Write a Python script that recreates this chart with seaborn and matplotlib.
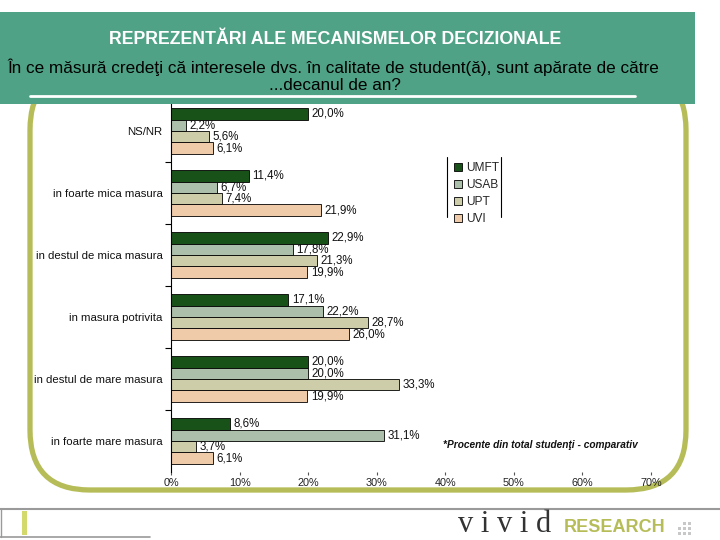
import matplotlib
matplotlib.use("Agg")
import matplotlib.pyplot as plt
import matplotlib.patches as mpatches
import matplotlib.transforms as mtransforms
from matplotlib.lines import Line2D
import pandas as pd
import seaborn as sns

CATEGORIES = [
    "NS/NR",
    "in foarte mica masura",
    "in destul de mica masura",
    "in masura potrivita",
    "in destul de mare masura",
    "in foarte mare masura",
]
UNIVERSITIES = ["UMFT", "USAB", "UPT", "UVI"]
UMFT = [20.0, 11.4, 22.9, 17.1, 20.0, 8.6]
USAB = [2.2, 6.7, 17.8, 22.2, 20.0, 31.1]
UPT = [5.6, 7.4, 21.3, 28.7, 33.3, 3.7]
UVI = [6.1, 21.9, 19.9, 26.0, 19.9, 6.1]
X_TICKS = [0, 10, 20, 30, 40, 50, 60, 70]

COLORS = ["#0f5c0f", "#a9c3a6", "#d4d3a3", "#fccb9d"]
BAND = "#4fa285"
OLIVE = "#b6bd58"

sns.set_theme(style="white")
plt.rcParams["font.family"] = ["Liberation Sans", "DejaVu Sans"]

rows = []
for uni, values in zip(UNIVERSITIES, [UMFT, USAB, UPT, UVI]):
    for cat, v in zip(CATEGORIES, values):
        rows.append({"categorie": cat, "universitate": uni, "procent": v})
df = pd.DataFrame(rows)

fig = plt.figure(figsize=(7.2, 5.4), dpi=100)
pix = mtransforms.Affine2D().scale(0.01) + fig.dpi_scale_trans

ax = fig.add_axes([171 / 720, 1 - 472 / 540, 480 / 720, 372 / 540])
ax.patch.set_alpha(0)
sns.barplot(
    data=df, y="categorie", x="procent", hue="universitate",
    order=CATEGORIES, hue_order=UNIVERSITIES, palette=COLORS,
    orient="h", width=0.74, edgecolor="black", linewidth=0.6, ax=ax,
)

for container, values in zip(ax.containers, [UMFT, USAB, UPT, UVI]):
    labels = [f"{v:.1f}%".replace(".", ",") for v in values]
    ax.bar_label(container, labels=labels, padding=2.5, fontsize=8.3, color="#111111")

ax.set_xlim(0, 70)
ax.set_ylim(len(CATEGORIES) - 0.5, -0.5)
ax.set_xticks(X_TICKS)
ax.set_xticklabels([f"{t}%" for t in X_TICKS], fontsize=7.8, color="#222222")
ax.set_yticks(range(len(CATEGORIES)))
ax.set_yticklabels(CATEGORIES, fontsize=8.2, color="#111111")
ax.set_yticks([i + 0.5 for i in range(len(CATEGORIES) - 1)], minor=True)
ax.tick_params(axis="y", which="major", length=0, pad=6)
ax.tick_params(axis="y", which="minor", length=4, width=0.8, color="black", direction="out", left=True)
ax.tick_params(axis="x", length=2, width=0.8, color="#555555", direction="out", bottom=True, pad=2)
ax.set_xlabel("")
ax.set_ylabel("")
for side in ["top", "right", "bottom"]:
    ax.spines[side].set_visible(False)
ax.spines["left"].set_color("black")
ax.spines["left"].set_linewidth(0.8)

handles, labels = ax.get_legend_handles_labels()
ax.get_legend().remove()
fig.legend(
    handles, labels, loc="upper left", bbox_to_anchor=(446 / 720, 1 - 154 / 540),
    frameon=False, fontsize=8.6, handlelength=0.6, handleheight=0.6,
    handletextpad=0.35, labelspacing=0.42, borderpad=0.2,
)
for x in [447, 501]:
    fig.add_artist(Line2D([x, x], [540 - 157, 540 - 217], transform=pix, color="black", lw=0.8))

fig.text(443 / 720, 1 - 445 / 540, "*Procente din total studenţi - comparativ",
         fontsize=7.3, style="italic", fontweight="bold", color="#111111", va="center")

# olive frame around the chart
frame = mpatches.FancyBboxPatch(
    (30, 540 - 490), 656, 420, boxstyle="round,pad=0,rounding_size=60",
    transform=pix, fill=False, edgecolor=OLIVE, linewidth=3.8, zorder=-1,
)
fig.add_artist(frame)

# header band
fig.add_artist(mpatches.Rectangle((0, 540 - 104), 695, 92, transform=pix,
                                  facecolor=BAND, edgecolor="none", zorder=3))
fig.add_artist(Line2D([30, 635], [540 - 96, 540 - 96], transform=pix, color="white", lw=2, zorder=4))
fig.text(335 / 720, 1 - 40 / 540, "REPREZENTĂRI ALE MECANISMELOR DECIZIONALE",
         ha="center", va="center", fontsize=12.8, fontweight="bold", color="white", zorder=5)
fig.text(333 / 720, 1 - 67 / 540,
         "În ce măsură credeţi că interesele dvs. în calitate de student(ă), sunt apărate de către",
         ha="center", va="center", fontsize=12.3, color="black", zorder=5)
fig.text(335 / 720, 1 - 86 / 540, "...decanul de an?",
         ha="center", va="center", fontsize=12.3, color="black", zorder=5)

# footer
fig.add_artist(Line2D([0, 720], [540 - 509, 540 - 509], transform=pix, color="#9a9a9a", lw=1.5))
fig.add_artist(Line2D([1, 1], [540 - 509, 540 - 537], transform=pix, color="#9a9a9a", lw=1))
fig.add_artist(mpatches.Rectangle((22, 540 - 535), 5, 24, transform=pix, facecolor="#d3d96a", edgecolor="none"))
fig.add_artist(Line2D([0, 150], [540 - 537, 540 - 537], transform=pix, color="#9a9a9a", lw=1.2))
fig.text(505 / 720, 1 - 524 / 540, "v i v i d", ha="center", va="center",
         fontsize=22, family="Liberation Serif", color="#333333")
fig.text(615 / 720, 1 - 527 / 540, "RESEARCH", ha="center", va="center",
         fontsize=13, fontweight="bold", color=OLIVE)
for dx in range(3):
    for dy in range(3):
        if (dx, dy) == (0, 2):
            continue
        fig.add_artist(mpatches.Rectangle((678 + dx * 5, 540 - 535 + dy * 5), 3, 3, transform=pix,
                                          facecolor="#c8c8c8", edgecolor="none"))

fig.savefig("out.png", dpi=100)
